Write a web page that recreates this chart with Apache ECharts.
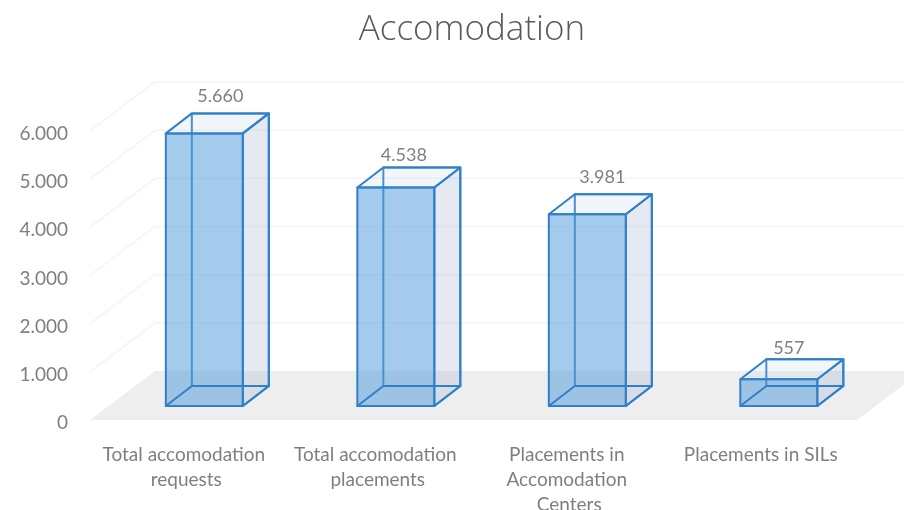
<!DOCTYPE html>
<html>
<head>
<meta charset="utf-8">
<style>html,body{margin:0;padding:0;background:#fff}#c{width:904px;height:510px}</style>
<script src="https://cdn.jsdelivr.net/npm/echarts@6/dist/echarts.min.js"></script>
</head>
<body>
<div id="c"></div>
<script>
const titleText = 'Accomodation';
const categories = ['Total accomodation requests', 'Total accomodation placements', 'Placements in Accomodation Centers', 'Placements in SILs'];
const values = [5660, 4538, 3981, 557];
const tickValues = [1000, 2000, 3000, 4000, 5000, 6000];

const fmt = v => String(v).replace(/\B(?=(\d{3})+$)/g, '.');
const FLOOR_DX = 65, FLOOR_DY = 49;      // receding floor
const BAR_DX = 26, BAR_DY = 20;          // bar depth
const BAR_INSET = 14;                    // bar front plane behind the floor front edge
const BAR_RATIO = 0.402;
const LABEL_NUDGE = [[3, -17], [-5, -12], [2, -17], [-3, -11]];
const TEXT = '#7f7f7f', FONT = 'Lato';
const EDGE = '#2f80c8';

const chart = echarts.init(document.getElementById('c'), null, {renderer: 'canvas'});

function floorItem(params, api) {
  const band = api.size([1, 0])[0];
  const o = api.coord([0, 0]);
  const l = o[0] - band / 2 + 2, r = l + band * 4 + 1, y = o[1];
  return {type: 'polygon', silent: true, shape: {points: [[l, y], [r, y], [r + FLOOR_DX, y - FLOOR_DY], [l + FLOOR_DX, y - FLOOR_DY]]}, style: {fill: '#eeeeee'}};
}
function gridItem(params, api) {
  const band = api.size([1, 0])[0];
  const o = api.coord([0, api.value(0)]);
  const l = api.coord([0, 0])[0] - band / 2 + 2, y = o[1];
  return {type: 'polyline', silent: true, shape: {points: [[l, y], [l + FLOOR_DX, y - FLOOR_DY], [904, y - FLOOR_DY]]}, style: {stroke: '#f4f4f4', lineWidth: 1.5, fill: null}};
}
function barItem(params, api) {
  const i = api.value(0), v = api.value(1);
  const band = api.size([1, 0])[0];
  const w = band * BAR_RATIO;
  const base = api.coord([i, 0]), top = api.coord([i, v]);
  const cx = base[0] + BAR_INSET * FLOOR_DX / FLOOR_DY + 2;
  const l = cx - w / 2, r = cx + w / 2;
  const yb = base[1] - BAR_INSET, yt = top[1] - BAR_INSET;
  const dx = BAR_DX, dy = BAR_DY;
  const poly = (pts, fill) => ({type: 'polygon', silent: true, shape: {points: pts}, style: {fill: fill, stroke: EDGE, lineWidth: 2, lineJoin: 'round'}});
  const nudge = LABEL_NUDGE[i];
  return {type: 'group', children: [
    poly([[l + dx, yb - dy], [r + dx, yb - dy], [r + dx, yt - dy], [l + dx, yt - dy]], 'rgba(255,255,255,0)'),
    poly([[r, yb], [r + dx, yb - dy], [r + dx, yt - dy], [r, yt]], 'rgba(160,175,205,0.27)'),
    poly([[l, yt], [r, yt], [r + dx, yt - dy], [l + dx, yt - dy]], 'rgba(190,210,235,0.2)'),
    poly([[l, yb], [r, yb], [r, yt], [l, yt]], 'rgba(91,160,220,0.55)'),
    poly([[l, yb], [r, yb], [r + dx, yb - dy], [l + dx, yb - dy]], 'rgba(255,255,255,0)'),
    {type: 'text', silent: true, style: {
      text: fmt(v), x: (l + r + dx) / 2 + nudge[0], y: yt - dy + nudge[1],
      fill: TEXT, font: '400 18px ' + FONT, align: 'center', verticalAlign: 'middle'
    }}
  ]};
}

chart.setOption({
  animation: false,
  backgroundColor: '#fff',
  title: {text: titleText, left: 467, top: 8, textAlign: 'center',
    textStyle: {color: '#595959', fontFamily: 'Open Sans', fontWeight: 300, fontSize: 35}},
  grid: {left: 88, right: 50, top: 131, bottom: 90, outerBoundsMode: 'none'},
  xAxis: {type: 'category', data: categories,
    axisLine: {show: false}, axisTick: {show: false}, splitLine: {show: false},
    axisLabel: {interval: 0, margin: 22, color: TEXT, fontFamily: FONT, fontSize: 19, lineHeight: 25,
      width: 172, overflow: 'break', align: 'center', verticalAlign: 'top', padding: [0, 0, 0, 5]}},
  yAxis: {type: 'value', min: 0, max: 6000, interval: 1000,
    axisLine: {show: false}, axisTick: {show: false}, splitLine: {show: false},
    axisLabel: {margin: 20, color: TEXT, fontFamily: FONT, fontSize: 19, formatter: fmt, verticalAlign: 'top', padding: [-6.5, 0, 0, 0]}},
  series: [
    {type: 'custom', coordinateSystem: 'cartesian2d', clip: false, z: 1, data: [[0, 0]], renderItem: floorItem, encode: {x: 0, y: 1}},
    {type: 'custom', coordinateSystem: 'cartesian2d', clip: false, z: 2, data: tickValues.map(v => [v]), renderItem: gridItem, encode: {y: 0}},
    {type: 'custom', coordinateSystem: 'cartesian2d', clip: false, z: 3, data: values.map((v, i) => [i, v]), renderItem: barItem, encode: {x: 0, y: 1}}
  ]
});
</script>
</body>
</html>
